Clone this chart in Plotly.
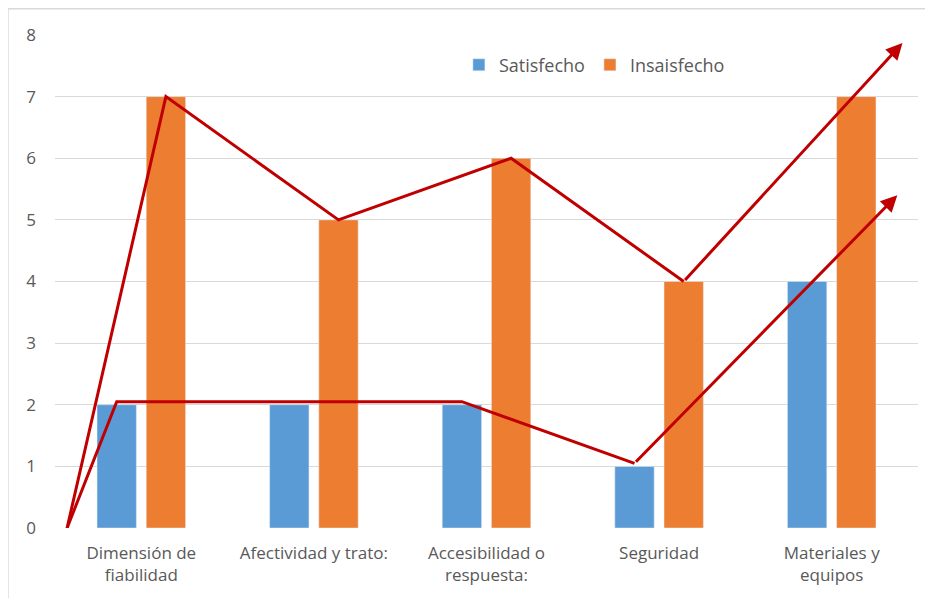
import plotly.graph_objects as go

# datos
categorias = ["Dimensión de<br>fiabilidad", "Afectividad y trato:",
              "Accesibilidad o<br>respuesta:", "Seguridad", "Materiales y<br>equipos"]
satisfecho = [2, 2, 2, 1, 4]
insatisfecho = [7, 5, 6, 4, 7]

# flechas dibujadas a mano sobre el grafico (inicio y punta)
inicio_flecha = (-0.43, 0)
punta_satisf = (4.38, 5.4)
punta_insatisf = (4.41, 7.87)

AZUL = '#5B9BD5'
NARANJA = '#ED7D31'
ROJO = '#C00000'
GRIS = '#595959'

bargap = 0.43
desplaz = (1 - bargap) / 4
pos = list(range(len(categorias)))

fig = go.Figure()
fig.add_trace(go.Bar(x=pos, y=satisfecho, name='Satisfecho', marker_color=AZUL))
fig.add_trace(go.Bar(x=pos, y=insatisfecho, name='Insaisfecho', marker_color=NARANJA))

# lineas rojas que unen la parte superior de las barras
sx = [inicio_flecha[0]] + [i - desplaz for i in pos[:4]]
sy = [inicio_flecha[1]] + [v + 0.05 for v in satisfecho[:4]]
sx = [sx[0], sx[1], sx[3], sx[4]]
sy = [sy[0], sy[1], sy[3], sy[4]]
ix = [inicio_flecha[0]] + [i + desplaz for i in pos[:4]]
iy = [inicio_flecha[1]] + insatisfecho[:4]

for xs, ys, punta in [(sx, sy, punta_satisf), (ix, iy, punta_insatisf)]:
    fig.add_trace(go.Scatter(x=xs, y=ys, mode='lines', showlegend=False,
                             line=dict(color=ROJO, width=3), cliponaxis=False,
                             hoverinfo='skip'))
    fig.add_annotation(x=punta[0], y=punta[1], ax=xs[-1], ay=ys[-1],
                       xref='x', yref='y', axref='x', ayref='y', text='',
                       showarrow=True, arrowhead=2, arrowsize=1.1,
                       arrowwidth=3, arrowcolor=ROJO)

# marco del grafico (solo borde superior e izquierdo visibles)
borde = dict(color='#D9D9D9', width=1.5)
fig.add_shape(type='line', xref='paper', yref='paper', x0=-0.0545, x1=1.01,
              y0=1.053, y1=1.053, line=borde, layer='below')
fig.add_shape(type='line', xref='paper', yref='paper', x0=-0.0545, x1=-0.0545,
              y0=-0.2, y1=1.053, line=borde, layer='below')

fig.update_layout(
    width=917, height=590,
    margin=dict(l=47, r=7, t=27, b=70),
    paper_bgcolor='white', plot_bgcolor='white',
    barmode='group', bargap=bargap, bargroupgap=0.2,
    font=dict(family='Open Sans', size=18, color=GRIS),
    legend=dict(orientation='h', x=0.468, y=0.939, xanchor='left', yanchor='middle',
                font=dict(size=18, color=GRIS), itemwidth=30, traceorder='normal'),
    xaxis=dict(tickmode='array', tickvals=pos, ticktext=categorias,
               range=[-0.5, len(categorias) - 0.5], showgrid=False,
               zeroline=False, showline=False, ticks='',
               tickfont=dict(size=17), ticklabelstandoff=13),
    yaxis=dict(range=[0, 8], dtick=1, gridcolor='#D9D9D9', gridwidth=1.2,
               zeroline=False, showline=False, ticklabelstandoff=18,
               tickfont=dict(size=17)),
)

fig.write_html("out.html")
